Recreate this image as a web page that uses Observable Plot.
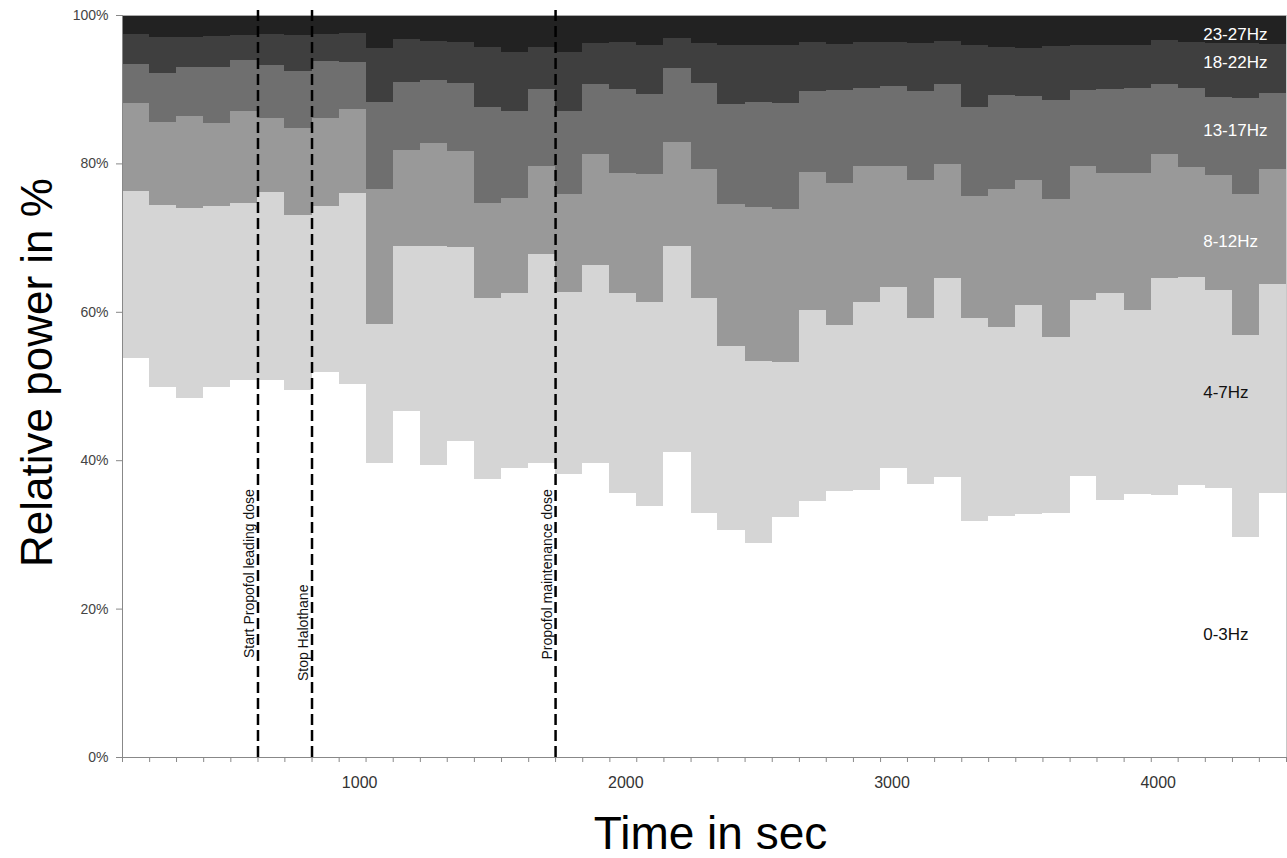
<!DOCTYPE html>
<html>
<head>
<meta charset="utf-8">
<script src="https://cdn.jsdelivr.net/npm/d3@7"></script>
<script src="https://cdn.jsdelivr.net/npm/@observablehq/plot@0.6"></script>
<style>
  html, body { margin: 0; padding: 0; background: #fff; }
  #chart svg { display: block; }
</style>
</head>
<body>
<div id="chart"></div>
<script>
// Bin start times in seconds (last value closes the final bin)
const times = [109, 211, 312, 414, 516, 618, 719, 821, 923, 1024, 1126, 1228, 1329, 1431, 1533,
  1635, 1736, 1838, 1940, 2041, 2143, 2245, 2346, 2448, 2550, 2652, 2753, 2855, 2957, 3058,
  3160, 3262, 3363, 3465, 3567, 3669, 3770, 3872, 3974, 4075, 4177, 4279, 4380, 4482];

const bandNames = ["0-3Hz", "4-7Hz", "8-12Hz", "13-17Hz", "18-22Hz", "23-27Hz"];

// Relative power (%) per band per bin
const hz0_3 = [53.8, 49.9, 48.4, 49.8, 50.8, 50.8, 49.4, 51.9, 50.3, 39.6, 46.6, 39.3, 42.6, 37.4, 38.9,
  39.6, 38.2, 39.6, 35.6, 33.8, 41.1, 32.9, 30.6, 28.8, 32.3, 34.5, 35.9, 36.0, 38.9, 36.8,
  37.8, 31.8, 32.5, 32.8, 32.9, 37.9, 34.6, 35.4, 35.3, 36.6, 36.2, 29.6, 35.6];
const hz4_7 = [22.5, 24.5, 25.6, 24.4, 23.9, 25.4, 23.7, 22.3, 25.7, 18.8, 22.3, 29.6, 26.1, 24.5, 23.6,
  28.2, 24.5, 26.7, 26.9, 27.5, 27.8, 28.9, 24.8, 24.6, 20.9, 25.7, 22.3, 25.3, 24.5, 22.3,
  26.8, 27.3, 25.5, 28.1, 23.7, 23.7, 27.9, 24.8, 29.3, 28.1, 26.7, 27.3, 28.1];
const hz8_12 = [11.8, 11.2, 12.4, 11.3, 12.4, 9.9, 11.7, 11.9, 11.3, 18.2, 12.9, 13.9, 13.0, 12.7, 12.8,
  11.8, 13.2, 15.0, 16.2, 17.3, 14.0, 17.4, 19.1, 20.7, 20.6, 18.7, 19.2, 18.4, 16.3, 18.6,
  15.3, 16.5, 18.6, 16.9, 18.6, 18.1, 16.2, 18.5, 16.6, 14.8, 15.5, 19.0, 15.5];
const hz13_17 = [5.3, 6.6, 6.6, 7.5, 6.8, 7.1, 7.7, 7.7, 6.4, 11.7, 9.2, 8.5, 9.1, 13.0, 11.7,
  10.4, 11.2, 9.4, 11.3, 10.7, 9.9, 11.6, 13.5, 14.2, 14.4, 10.9, 12.5, 10.5, 10.7, 12.0,
  10.8, 12.0, 12.6, 11.3, 13.4, 10.2, 11.3, 11.4, 9.5, 10.7, 10.6, 12.9, 10.3];
const hz18_22 = [4.1, 4.9, 4.0, 4.2, 3.4, 4.2, 4.8, 3.7, 3.9, 7.3, 5.7, 5.2, 5.5, 8.1, 8.0,
  5.7, 7.9, 5.5, 6.4, 6.7, 4.1, 5.4, 8.0, 7.6, 7.7, 6.6, 6.2, 6.2, 5.9, 6.5,
  5.8, 8.3, 6.5, 6.5, 7.2, 6.1, 5.9, 5.9, 5.9, 6.2, 7.2, 7.4, 6.6];
const hz23_27 = [2.5, 2.9, 3.0, 2.8, 2.7, 2.6, 2.7, 2.5, 2.4, 4.4, 3.3, 3.5, 3.7, 4.3, 5.0,
  4.3, 5.0, 3.8, 3.6, 4.0, 3.1, 3.8, 4.0, 4.1, 4.1, 3.6, 3.9, 3.6, 3.7, 3.8,
  3.5, 4.1, 4.3, 4.4, 4.2, 4.0, 4.1, 4.0, 3.4, 3.6, 3.8, 3.8, 3.9];

const bandValues = [hz0_3, hz4_7, hz8_12, hz13_17, hz18_22, hz23_27];
const bandColors = ["#ffffff", "#d5d5d5", "#999999", "#6f6f6f", "#3f3f3f", "#222222"];

// Events (seconds) and their labels
const events = [618, 821, 1736];
const eventLabels = ["Start Propofol leading dose", "Stop Halothane", "Propofol maintenance dose"];

const xTickLabels = [1000, 2000, 3000, 4000];
const yTicks = [0, 20, 40, 60, 80, 100];

// Long-format table for stacking
const rows = [];
bandNames.forEach((b, j) => {
  const vals = bandValues[j];
  times.forEach((t, i) => rows.push({t, band: b, v: vals[Math.min(i, vals.length - 1)]}));
});

// Annotation layout (in axis units) for the band labels and event labels
const bandLabelX = 4169;
const bandLabelY = [16.6, 49.2, 69.6, 84.5, 93.6, 97.5];
const eventLabelY = [13.4, 10.3, 13.2];
const labelRows = bandNames.map((b, i) => ({band: b, y: bandLabelY[i], light: i >= 2}));

const font = "'Liberation Sans', Arial, Helvetica, sans-serif";

const plot = Plot.plot({
  width: 1287,
  height: 858,
  marginLeft: 122,
  marginRight: 1,
  marginTop: 15,
  marginBottom: 101,
  style: {fontFamily: font, background: "#fff", overflow: "visible"},
  x: {domain: [times[0], times[times.length - 1]]},
  y: {domain: [0, 100]},
  color: {domain: bandNames, range: bandColors},
  marks: [
    Plot.areaY(rows, {x: "t", y: "v", z: "band", fill: "band", curve: "step-after", shapeRendering: "crispEdges"}),
    Plot.ruleX([times[times.length - 1]], {stroke: "#c8c8c8"}),
    Plot.ruleY([100], {stroke: "#aaa"}),
    Plot.axisX({ticks: times, tickFormat: () => "", tickSize: 5, stroke: "#888", label: null}),
    Plot.axisX({ticks: xTickLabels, tickFormat: d => String(d), tickSize: 0, tickPadding: 19, fontSize: 16, fill: "#333", label: null}),
    Plot.axisY({ticks: yTicks, tickFormat: d => d + "%", tickSize: 6, tickPadding: 8, fontSize: 14, stroke: "#888", fill: "#444", label: null}),
    Plot.ruleY([0], {stroke: "#888"}),
    Plot.ruleX([times[0]], {stroke: "#888"}),
    Plot.ruleX(events, {y1: 0, y2: 101, stroke: "#000", strokeWidth: 2.5, strokeDasharray: "11,5"}),
    Plot.text(events, {
      x: d => d,
      y: (d, i) => eventLabelY[i],
      text: (d, i) => eventLabels[i],
      rotate: -90, textAnchor: "start", lineAnchor: "bottom", dx: -4,
      fontSize: 14, fill: "#111"
    }),
    Plot.text(labelRows.filter(d => d.light), {x: bandLabelX, y: "y", text: "band", textAnchor: "start", fontSize: 17, fill: "#fff"}),
    Plot.text(labelRows.filter(d => !d.light), {x: bandLabelX, y: "y", text: "band", textAnchor: "start", fontSize: 17, fill: "#111"}),
    Plot.text(["Relative power in %"], {frameAnchor: "left", textAnchor: "middle", rotate: -90, dx: -85, dy: -14, fontSize: 44, fill: "#000"}),
    Plot.text(["Time in sec"], {frameAnchor: "bottom", lineAnchor: "bottom", dx: 6, dy: 91, fontSize: 46, fill: "#000"})
  ]
});

document.getElementById("chart").appendChild(plot);
</script>
</body>
</html>
